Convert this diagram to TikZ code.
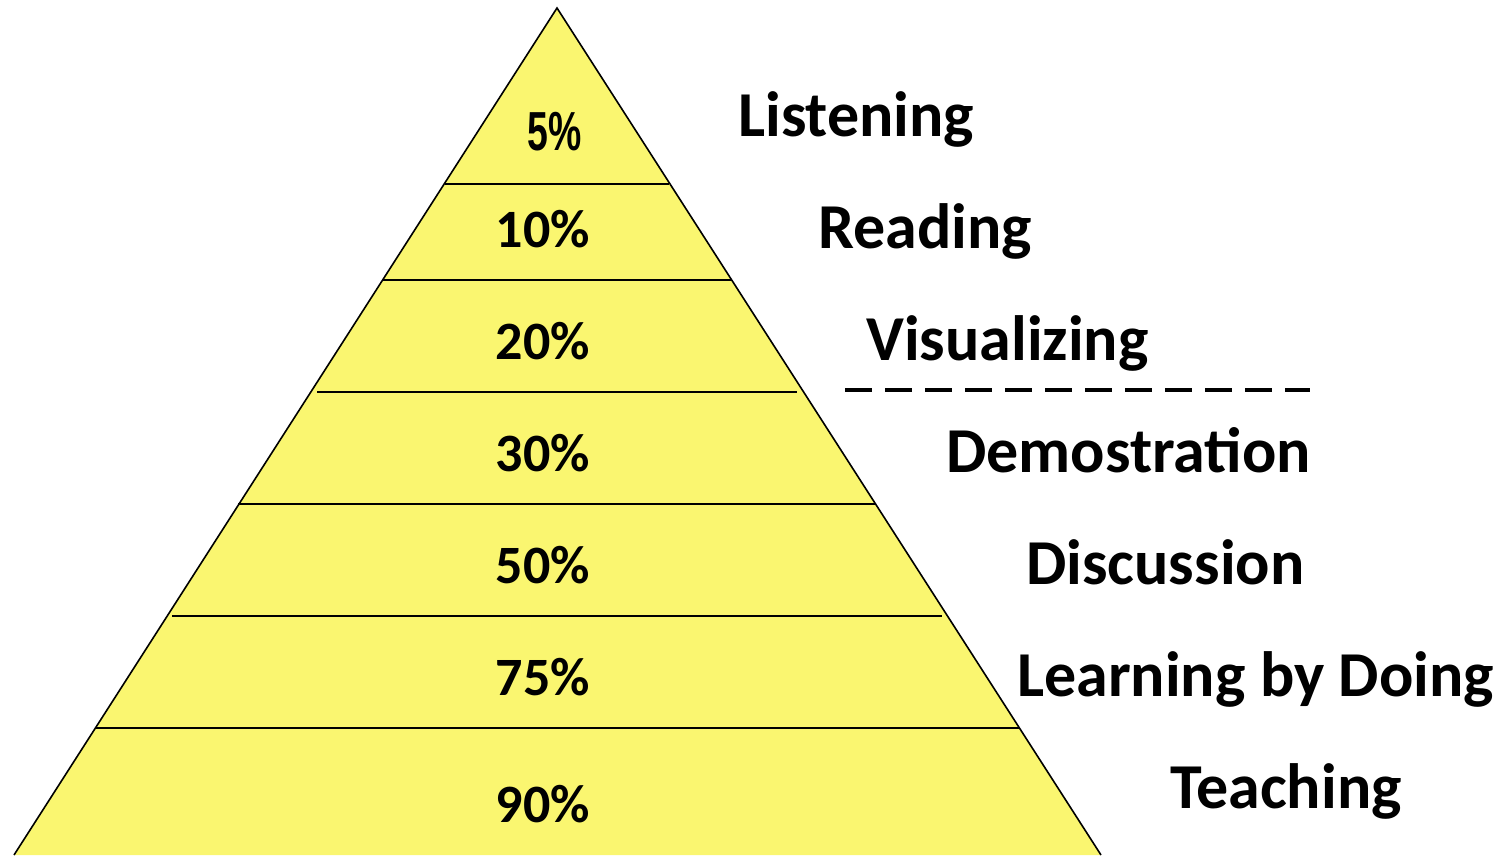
\documentclass[tikz,border=0pt]{standalone}
\usepackage{fontspec}
\setmainfont{Carlito}
\newfontfamily\narrowfont{Liberation Sans}
\begin{document}
\begin{tikzpicture}[x=1pt,y=-1pt,
  band/.style={draw=black,line width=1.6pt},
  pct/.style={anchor=base,inner sep=0pt,font=\fontsize{54}{60}\selectfont\bfseries},
  lbl/.style={anchor=base west,inner sep=0pt,font=\fontsize{64}{70}\selectfont\bfseries}]
\definecolor{pyryellow}{RGB}{250,246,112}
\useasboundingbox (0,0) rectangle (1508,855);
% pyramid body
\coordinate (apex) at (557,8);
\coordinate (bl) at (14,855);
\coordinate (br) at (1101,855);
\fill[pyryellow] (bl) -- (apex) -- (br) -- cycle;
\draw[black,line width=1.6pt,line join=miter] (bl) -- (apex) -- (br);
% band dividers
\coordinate (a1) at (445,184); \coordinate (b1) at (669,184);
\coordinate (a2) at (383,280); \coordinate (b2) at (731,280);
\coordinate (a3) at (317,392); \coordinate (b3) at (797,392);
\coordinate (a4) at (238,504); \coordinate (b4) at (876,504);
\coordinate (a5) at (172,616); \coordinate (b5) at (942,616);
\coordinate (a6) at (95,728);  \coordinate (b6) at (1019,728);
\foreach \i in {1,...,6} \draw[band] (a\i) -- (b\i);
% percentages
\node[pct,font=\fontsize{55}{60}\selectfont\bfseries\narrowfont] (p5) at (555,150) {\scalebox{0.68}[1]{5\%}};
\node[pct] (p10) at (543,247) {10\%};
\node[pct] (p20) at (543,359) {20\%};
\node[pct] (p30) at (543,471) {30\%};
\node[pct] (p50) at (543,583) {50\%};
\node[pct] (p75) at (543,695) {75\%};
\node[pct] (p90) at (543,822) {90\%};
% methods
\node[lbl] (l1) at (738,136) {Listening};
\node[lbl] (l2) at (818,248) {Reading};
\node[lbl] (l3) at (866,360) {Visualizing};
\node[lbl] (l4) at (946,472) {Demostration};
\node[lbl] (l5) at (1026,584) {Discussion};
\node[lbl] (l6) at (1017,696) {Learning by Doing};
\node[lbl] (l7) at (1170,808) {Teaching};
% separator
\coordinate (s1) at (845,390);
\coordinate (s2) at (1310,390);
\draw[line width=3.4pt,dash pattern=on 27pt off 13pt] (s1) -- (s2);
\end{tikzpicture}
\end{document}
